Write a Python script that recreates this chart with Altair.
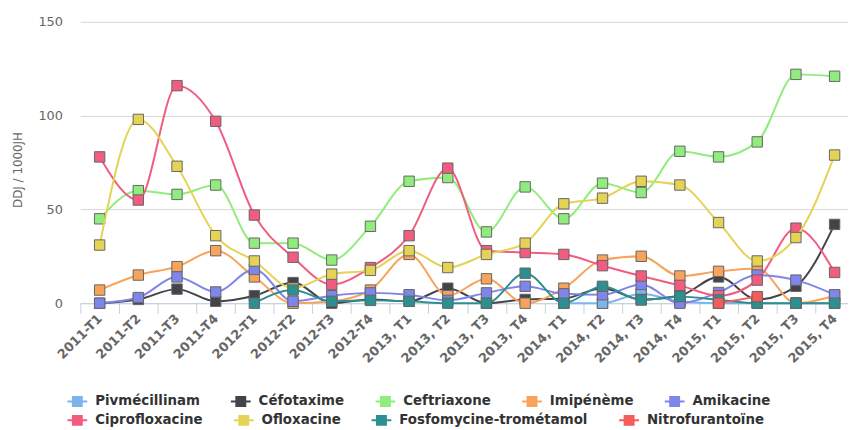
import altair as alt
import pandas as pd

periods = ["2011-T1", "2011-T2", "2011-T3", "2011-T4",
           "2012-T1", "2012-T2", "2012-T3", "2012-T4",
           "2013, T1", "2013, T2", "2013, T3", "2013, T4",
           "2014, T1", "2014, T2", "2014, T3", "2014, T4",
           "2015, T1", "2015, T2", "2015, T3", "2015, T4"]

series_names = ["Pivmécillinam", "Céfotaxime", "Ceftriaxone", "Imipénème", "Amikacine",
                "Ciprofloxacine", "Ofloxacine", "Fosfomycine-trométamol", "Nitrofurantoïne"]
colors = ["#7cb5ec", "#434348", "#90ed7d", "#f7a35c", "#8085e9",
          "#f15c80", "#e4d354", "#2b908f", "#f45b5b"]

pivmecillinam = [None] * 12 + [0, 0, 5, 1, 0, 0, 0, 0]
cefotaxime = [0, 2, 7.5, 1, 4, 11, 0, 2, 1, 8, 0, 2, 2.5, 8, 2, 4, 14, 2, 9, 42]
ceftriaxone = [45, 60, 58, 63, 32, 32, 23, 41, 65, 67, 38, 62, 45, 64, 59, 81, 78, 86, 122, 121]
imipeneme = [7, 15, 19.5, 28, 14, 0, 1, 7, 26, 4, 13, 0, 8, 23, 25, 14.5, 17, 18.5, 0, 4]
amikacine = [0, 3, 14, 6, 18, 1, 4, 5.5, 4.5, 1.5, 5.5, 9, 5, 4.5, 10, 0, 5.7, 15, 12.3, 4.5]
ciprofloxacine = [78, 55, 116, 97, 47, 24.5, 10, 19, 36, 72, 28, 27, 26, 20, 14.5, 9.5, 4, 12.3, 40, 16.4]
ofloxacine = [31, 98, 73, 36, 22.5, 8, 15.5, 17.5, 28, 19, 26, 32, 53, 56, 65, 63, 43, 22.5, 35, 79]
fosfomycine = [None] * 4 + [0, 7, 1, 1.5, 1, 0, 0, 16, 0, 9, 1.7, 3.5, 1.7, 0, 0, 0]
nitrofurantoine = [None] * 16 + [0, 3.5, None, None]

all_values = [pivmecillinam, cefotaxime, ceftriaxone, imipeneme, amikacine,
              ciprofloxacine, ofloxacine, fosfomycine, nitrofurantoine]

legend_row1 = series_names[:5]
legend_row2 = series_names[5:]

rows = []
for name, vals in zip(series_names, all_values):
    for p, v in zip(periods, vals):
        if v is not None:
            rows.append({"periode": p, "serie": name, "valeur": v})
df = pd.DataFrame(rows)

x_axis = alt.Axis(title=None, labelAngle=315, labelAlign="right", labelBaseline="middle",
                  labelFontSize=13, labelFontWeight="bold", labelColor="#666666",
                  labelPadding=3, tickBand="extent", tickSize=10, tickColor="#C0D0E0",
                  domainColor="#C0D0E0", grid=False, labelOverlap=False)
x_enc = alt.X("periode:N", bandPosition=0.5,
              scale=alt.Scale(type="band", domain=periods, paddingInner=0, paddingOuter=0,
                              range=[0, 781]),
              axis=x_axis)

y_axis = alt.Axis(values=[0, 50, 100, 150], grid=True, gridColor="#D8D8D8", domain=False,
                  ticks=False, labelFontSize=13, labelColor="#666666", labelPadding=18,
                  title="DDJ / 1000JH", titleFontSize=12, titleFontWeight="normal",
                  titleColor="#666666", titleX=-63, titleY=149, titleAngle=270,
                  titleAlign="center", titleBaseline="middle")
y_enc = alt.Y("valeur:Q", scale=alt.Scale(domain=[0, 150], nice=False), axis=y_axis)

color_scale = alt.Scale(domain=series_names, range=colors)
fill_scale_row2 = alt.Scale(domain=legend_row2, range=colors[5:])

legend_symbol = "M-1,-0.1H1V0.1H-1Z M-0.55,-0.55H0.55V0.55H-0.55Z"


def make_legend(y, values=None):
    kw = dict(title=None, orient="none", legendX=-13, legendY=y,
              direction="horizontal", columns=5,
              columnPadding=31, padding=0,
              symbolType=legend_symbol, symbolSize=400, symbolStrokeWidth=0,
              symbolOpacity=1, labelFontSize=13.5, labelFontWeight="bold",
              labelColor="#333333", labelOffset=8, labelLimit=400)
    if values is not None:
        kw["values"] = values
    return alt.Legend(**kw)


def point_mark(name):
    return alt.Chart().transform_filter(alt.datum.serie == name).mark_point(
        shape="square", filled=True, size=110, stroke="#666666", strokeWidth=1, opacity=1)


def points_layer(name, legend=None):
    return point_mark(name).encode(
        x=x_enc, y=y_enc, color=alt.Color("serie:N", scale=color_scale, legend=legend))


# first layer carries the first legend row
layers = [points_layer(series_names[0], make_legend(373, legend_row1))]
for name in series_names:
    line = alt.Chart().transform_filter(alt.datum.serie == name).mark_line(
        interpolate="monotone", strokeWidth=2
    ).encode(x=x_enc, y=y_enc,
             color=alt.Color("serie:N", scale=color_scale, legend=None))
    if name == series_names[-1]:
        # last series' markers carry the second legend row (separate fill scale)
        pts = point_mark(name).encode(
            x=x_enc, y=y_enc,
            fill=alt.Fill("serie:N", scale=fill_scale_row2, legend=make_legend(392)))
    else:
        pts = points_layer(name)
    layers += [line, pts]

chart = alt.layer(*layers, data=df).properties(
    width=775, height=284,
    padding={"left": 73, "top": 12, "right": 0, "bottom": 124},
    autosize=alt.AutoSizeParams(type="none"),
).configure(font="DejaVu Sans").configure_view(stroke=None)

chart.save("out.html", embed_options={"renderer": "svg", "actions": False})
